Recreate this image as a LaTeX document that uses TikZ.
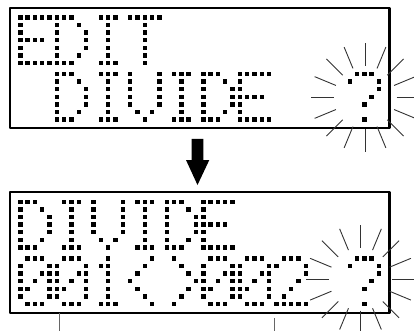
\documentclass[tikz,border=0pt]{standalone}
\usepackage{tikz}

% 5x7 dot patterns, one number per row (bit 4 = left column)
\newcommand{\glyphE}{31,16,16,30,16,16,31}
\newcommand{\glyphD}{28,18,17,17,17,18,28}
\newcommand{\glyphI}{14,4,4,4,4,4,14}
\newcommand{\glyphT}{31,4,4,4,4,4,4}
\newcommand{\glyphV}{17,17,17,17,17,10,4}
\newcommand{\glyphQ}{14,17,1,2,4,0,4}
\newcommand{\glyphZero}{14,17,19,21,25,17,14}
\newcommand{\glyphOne}{4,12,4,4,4,4,14}
\newcommand{\glyphTwo}{14,17,1,2,4,8,31}
\newcommand{\glyphLt}{2,4,8,16,8,4,2}
\newcommand{\glyphGt}{8,4,2,1,2,4,8}

\tikzset{
  lcdframe/.style={draw,line width=2.2pt,inner sep=0pt,minimum width=379.5pt,minimum height=120.3pt},
  lcddot/.style={fill=black},
  flash/.style={draw=black!80,line width=0.9pt},
  leader/.style={draw=black!60,line width=1pt}
}

% #1 box offset, #2 line, #3 cell, #4 glyph
\newcommand{\lcdchar}[4]{%
  \edef\lcdrows{#4}%
  \foreach \bits [count=\r from 0] in \lcdrows {%
    \foreach \k in {0,...,4} {%
      \pgfmathtruncatemacro{\on}{mod(floor(\bits/2^(4-\k)),2)}%
      \ifnum\on=1
        \fill[lcddot] ({18.1+36.6*#3+7.32*\k},{#1+15.2+56.6*#2+7.6*\r}) rectangle ++(4.4,4.4);
      \fi
    }%
  }%
}
% #1 box offset, #2 line, #3 first cell, #4 list of glyphs
\newcommand{\lcdline}[4]{%
  \foreach \g [count=\c from #3] in {#4} {\lcdchar{#1}{#2}{\c}{\g}}%
}

\begin{document}
\begin{tikzpicture}[x=1pt,y=-1pt,line join=round]
  \useasboundingbox (0,0) rectangle (414,331);
  % displays
  \node[lcdframe] (edit) at (199.75,68.15) {};
  \node[lcdframe] (divide) at (199.75,252.5) {};
  \coordinate (qtop) at (365,97.5);
  \coordinate (qbot) at (360.5,279.2);
  \coordinate (shaft) at (197.5,139);
  % upper display
  \lcdline{0}{0}{0}{\glyphE,\glyphD,\glyphI,\glyphT}
  \lcdline{0}{1}{1}{\glyphD,\glyphI,\glyphV,\glyphI,\glyphD,\glyphE}
  \lcdchar{0}{1}{9}{\glyphQ}
  % lower display
  \lcdline{184.3}{0}{0}{\glyphD,\glyphI,\glyphV,\glyphI,\glyphD,\glyphE}
  \lcdline{184.3}{1}{0}{\glyphZero,\glyphZero,\glyphOne,\glyphLt,\glyphGt,\glyphZero,\glyphZero,\glyphTwo}
  \lcdchar{184.3}{1}{9}{\glyphQ}
  % flashing marks
  \foreach \a in {0,22.5,...,337.5} {
    \draw[flash] (qtop) ++(\a:31.5) -- ++(\a:23);
    \draw[flash] (qbot) ++(\a:31.5) -- ++(\a:23);
  }
  % arrow
  \fill (shaft) ++(-5.8,0) -- ++(11.6,0) -- ++(0,21) -- ++(6,0) -- ++(-11.8,25)
    -- ++(-11.5,-25) -- ++(5.7,0) -- cycle;
  % leaders
  \draw[leader] (59,312.7) -- ++(0,18.3);
  \draw[leader] (274,318) -- ++(0,13);
\end{tikzpicture}
\end{document}
